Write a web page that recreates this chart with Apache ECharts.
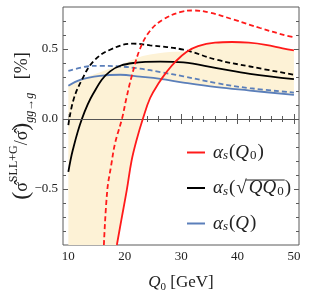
<!DOCTYPE html>
<html><head><meta charset="utf-8">
<script src="https://cdn.jsdelivr.net/npm/echarts@6/dist/echarts.min.js"></script>
<style>html,body{margin:0;padding:0;background:#fff}#c{width:309px;height:296px}</style>
</head><body><div id="c"></div>
<script>
// ---- data ----
var redSolidQ = [18.6, 19.4, 20.35, 21.2, 22.1, 23.2, 24.5, 26, 27.5, 29, 31, 33, 36, 39, 42, 45, 48, 50];
var redSolidV = [-0.9, -0.72, -0.51, -0.3, -0.15, 0.0, 0.15, 0.255, 0.34, 0.41, 0.48, 0.52, 0.545, 0.55, 0.545, 0.53, 0.505, 0.49];
var redDashQ = [16.3, 16.9, 17.6, 18.3, 19.5, 20.3, 21.2, 22.7, 24.5, 26.8, 29.8, 32.2, 35.1, 39.3, 44, 48.7, 50];
var redDashV = [-0.9, -0.51, -0.33, -0.17, 0.0, 0.15, 0.30, 0.50, 0.63, 0.71, 0.763, 0.775, 0.76, 0.71, 0.65, 0.595, 0.585];
var blackSolidQ = [10, 10.8, 12.4, 14.4, 17.4, 21.5, 26.3, 30.4, 36.3, 42.2, 50];
var blackSolidV = [-0.378, -0.22, 0.0, 0.18, 0.34, 0.40, 0.41, 0.404, 0.364, 0.323, 0.285];
var blackDashQ = [10, 10.9, 12.4, 14.4, 17.4, 21.5, 24.5, 30.4, 36.3, 42.2, 50];
var blackDashV = [-0.043, 0.136, 0.28, 0.41, 0.495, 0.538, 0.526, 0.495, 0.423, 0.375, 0.316];
var blueSolidQ = [10, 12.1, 15.6, 19.2, 22.7, 26.3, 30.4, 36.3, 42.2, 50];
var blueSolidV = [0.237, 0.28, 0.308, 0.316, 0.303, 0.287, 0.26, 0.227, 0.203, 0.172];
var blueDashQ = [10, 13.3, 15.6, 19.2, 22.7, 26.3, 30.4, 36.3, 42.2, 50];
var blueDashV = [0.344, 0.375, 0.38, 0.375, 0.36, 0.335, 0.305, 0.256, 0.22, 0.189];
var bandQ = [10, 12, 14, 16, 18, 18.6, 19.4, 20.35, 21.2, 22.1, 23.2, 24.5, 26, 27, 28, 29, 31, 33, 36, 39, 42, 45, 48, 50];
var bandLow = [-0.9, -0.9, -0.9, -0.9, -0.9, -0.9, -0.72, -0.51, -0.3, -0.15, 0.0, 0.15, 0.255, 0.283, 0.277, 0.27, 0.257, 0.245, 0.228, 0.215, 0.203, 0.19, 0.18, 0.172];
var bandHigh = [0.24, 0.28, 0.31, 0.34, 0.37, 0.38, 0.39, 0.405, 0.42, 0.435, 0.45, 0.46, 0.47, 0.475, 0.478, 0.48, 0.483, 0.52, 0.545, 0.55, 0.545, 0.53, 0.505, 0.49];
var xMajor = [10, 20, 30, 40, 50];
var xMinor = [12, 14, 16, 18, 22, 24, 26, 28, 32, 34, 36, 38, 42, 44, 46, 48];
var yMajor = [-0.5, 0, 0.5];
var yMinor = [-0.8, -0.7, -0.6, -0.4, -0.3, -0.2, -0.1, 0.1, 0.2, 0.3, 0.4, 0.6, 0.7];
var legendNames = ['αs(Q0)', 'αs(√QQ0)', 'αs(Q)'];

function pairs(q, v) { return q.map(function (x, i) { return [x, v[i]]; }); }

var SERIF = '"Liberation Serif", "DejaVu Serif", serif';
var RED = '#ff1a1a', BLACK = '#000000', BLUE = '#5b7fba', BAND = '#fdf2d6', FRAME = '#5a5a5a';
var X0 = 9.05, X1 = 50.9, Y0 = -0.9, Y1 = 0.8;
var LFS = 19, LSS = 13; // legend font sizes

function xAx(pos, vals, len, labels) {
  return { type: 'value', min: X0, max: X1, position: pos, gridIndex: 0,
    axisLine: { show: false }, splitLine: { show: false },
    axisTick: { show: true, inside: true, length: len, customValues: vals, lineStyle: { color: FRAME, width: 1 } },
    axisLabel: labels ? { show: true, customValues: vals, fontFamily: SERIF, fontSize: 13, color: '#222', margin: 5 } : { show: false } };
}
function yAx(pos, vals, len, labels) {
  return { type: 'value', min: Y0, max: Y1, position: pos, gridIndex: 0,
    axisLine: { show: false }, splitLine: { show: false },
    axisTick: { show: true, inside: true, length: len, customValues: vals, lineStyle: { color: FRAME, width: 1 } },
    axisLabel: labels ? { show: true, customValues: vals, fontFamily: SERIF, fontSize: 13, color: '#222', margin: 5,
      formatter: function (v) { return (v < 0 ? '\u2212' : '') + Math.abs(v).toFixed(1); } } : { show: false } };
}

var xAxes = [xAx('bottom', xMajor, 5, true), xAx('bottom', xMinor, 3, false), xAx('top', xMajor, 5, false), xAx('top', xMinor, 3, false)];
xAxes[0].name = '{q|Q}{z|0}{t| [GeV]}';
xAxes[0].nameLocation = 'middle';
xAxes[0].nameGap = 28;
xAxes[0].nameTextStyle = { rich: {
  q: { fontFamily: SERIF, fontStyle: 'italic', fontSize: 17, color: '#222', lineHeight: 20 },
  z: { fontFamily: SERIF, fontSize: 11, color: '#222', lineHeight: 20, verticalAlign: 'bottom' },
  t: { fontFamily: SERIF, fontSize: 17, color: '#222', lineHeight: 20 } } };
var yAxes = [yAx('left', yMajor, 5, true), yAx('left', yMinor, 3, false), yAx('right', yMajor, 5, false), yAx('right', yMinor, 3, false)];
yAxes[0].name = '{p|(}{t|σ\u0302}{u|SLL+G}{t|/σ\u0302}{p|)}{d|gg→g}{t|   [%]}';
yAxes[0].nameLocation = 'middle';
yAxes[0].nameRotate = 90;
yAxes[0].nameGap = 27;
yAxes[0].nameMoveOverlap = false;
yAxes[0].nameTextStyle = { rich: {
  p: { fontFamily: SERIF, fontSize: 24, color: '#222', lineHeight: 28 },
  t: { fontFamily: SERIF, fontSize: 18, color: '#222', lineHeight: 28 },
  u: { fontFamily: SERIF, fontSize: 12, color: '#222', lineHeight: 28, verticalAlign: 'top' },
  d: { fontFamily: SERIF, fontStyle: 'italic', fontSize: 12, color: '#222', lineHeight: 28, verticalAlign: 'bottom' } } };

function line(name, q, v, color, dashed, z) {
  return { name: name, type: 'line', xAxisIndex: 0, yAxisIndex: 0, data: pairs(q, v), smooth: 0.4,
    symbol: 'none', z: z, lineStyle: { color: color, width: 1.8, type: dashed ? [5, 3] : 'solid' },
    itemStyle: { color: color }, silent: true };
}

var series = [
  { name: 'band', type: 'custom', xAxisIndex: 0, yAxisIndex: 0, z: 1, silent: true,
    data: [[bandQ[0], bandLow[0]]],
    renderItem: function (params, api) {
      var pts = [];
      for (var i = 0; i < bandQ.length; i++) pts.push(api.coord([bandQ[i], bandHigh[i]]));
      for (var j = bandQ.length - 1; j >= 0; j--) pts.push(api.coord([bandQ[j], bandLow[j]]));
      return { type: 'polygon', shape: { points: pts }, style: { fill: BAND, stroke: null } };
    },
    markLine: { silent: true, symbol: 'none', label: { show: false }, lineStyle: { color: '#555', width: 1, type: 'solid' },
      data: [{ yAxis: 0 }], z: 5 } },
  line(legendNames[2], blueSolidQ, blueSolidV, BLUE, false, 3),
  line('blueDash', blueDashQ, blueDashV, BLUE, true, 3),
  line(legendNames[1], blackSolidQ, blackSolidV, BLACK, false, 4),
  line('blackDash', blackDashQ, blackDashV, BLACK, true, 4),
  line(legendNames[0], redSolidQ, redSolidV, RED, false, 5),
  line('redDash', redDashQ, redDashV, RED, true, 5)
];

var QPAD = 1, RPAD = 2;
var legendRich = {
  a: { fontFamily: SERIF, fontStyle: 'italic', fontSize: LFS, color: '#222', lineHeight: 20 },
  s: { fontFamily: SERIF, fontStyle: 'italic', fontSize: LSS, color: '#222', lineHeight: 20, verticalAlign: 'bottom', padding: [0, 1, 0, 0] },
  t: { fontFamily: SERIF, fontSize: LFS, color: '#222', lineHeight: 20 },
  r: { fontFamily: SERIF, fontSize: LFS, color: '#222', lineHeight: 20, padding: [0, RPAD, 0, 1] },
  q: { fontFamily: SERIF, fontStyle: 'italic', fontSize: LFS, color: '#222', lineHeight: 20, padding: [0, QPAD, 0, 0] },
  z: { fontFamily: SERIF, fontSize: LSS, color: '#222', lineHeight: 20, verticalAlign: 'bottom', padding: [0, 1, 0, 0] }
};
var legendText = {};
legendText[legendNames[0]] = '{a|α}{s|s}{t|(}{q|Q}{z|0}{t|)}';
legendText[legendNames[1]] = '{a|α}{s|s}{t|(}{r|√}{q|QQ}{z|0}{t|)}';
legendText[legendNames[2]] = '{a|α}{s|s}{t|(}{q|Q}{t|)}';

// overline of the square root (text decoration): measure the glyph widths
var mctx = document.createElement('canvas').getContext('2d');
function tw(txt, size, italic) { mctx.font = (italic ? 'italic ' : '') + size + 'px ' + SERIF; return mctx.measureText(txt).width; }
var LEG_LEFT = 187, LEG_TOP = 143, LEG_GAP = 16, TXT_PAD = 3;
var tx0 = LEG_LEFT + 18 + 5 + TXT_PAD;
var ovX1 = tx0 + tw('α', LFS, true) + tw('s', LSS, true) + 1 + tw('(', LFS, false) + 1 + tw('√', LFS, false) - 1;
var ovX2 = ovX1 + 1 + RPAD + tw('QQ', LFS, true) + QPAD + tw('0', LSS, false) + 1;
var rowC = LEG_TOP + 10 + (20 + LEG_GAP);
var ovY = rowC - 9;

var chart = echarts.init(document.getElementById('c'), null, { renderer: 'canvas' });
chart.setOption({
  animation: false,
  grid: { left: 63, right: 10, top: 7, bottom: 51, show: true, borderColor: FRAME, borderWidth: 1, backgroundColor: 'transparent',
    containLabel: false, outerBoundsMode: 'none' },
  xAxis: xAxes,
  yAxis: yAxes,
  legend: { data: legendNames, orient: 'vertical', left: LEG_LEFT, top: LEG_TOP, itemGap: LEG_GAP, itemWidth: 18, itemHeight: 2,
    icon: 'rect', selectedMode: false, padding: 0, textStyle: { rich: legendRich, padding: [0, 0, 0, TXT_PAD] }, formatter: function (n) { return legendText[n]; } },
  series: series,
  graphic: [{ type: 'line', shape: { x1: ovX1, y1: ovY, x2: ovX2, y2: ovY }, style: { stroke: '#222', lineWidth: 1 }, z: 10 }]
});
</script></body></html>
